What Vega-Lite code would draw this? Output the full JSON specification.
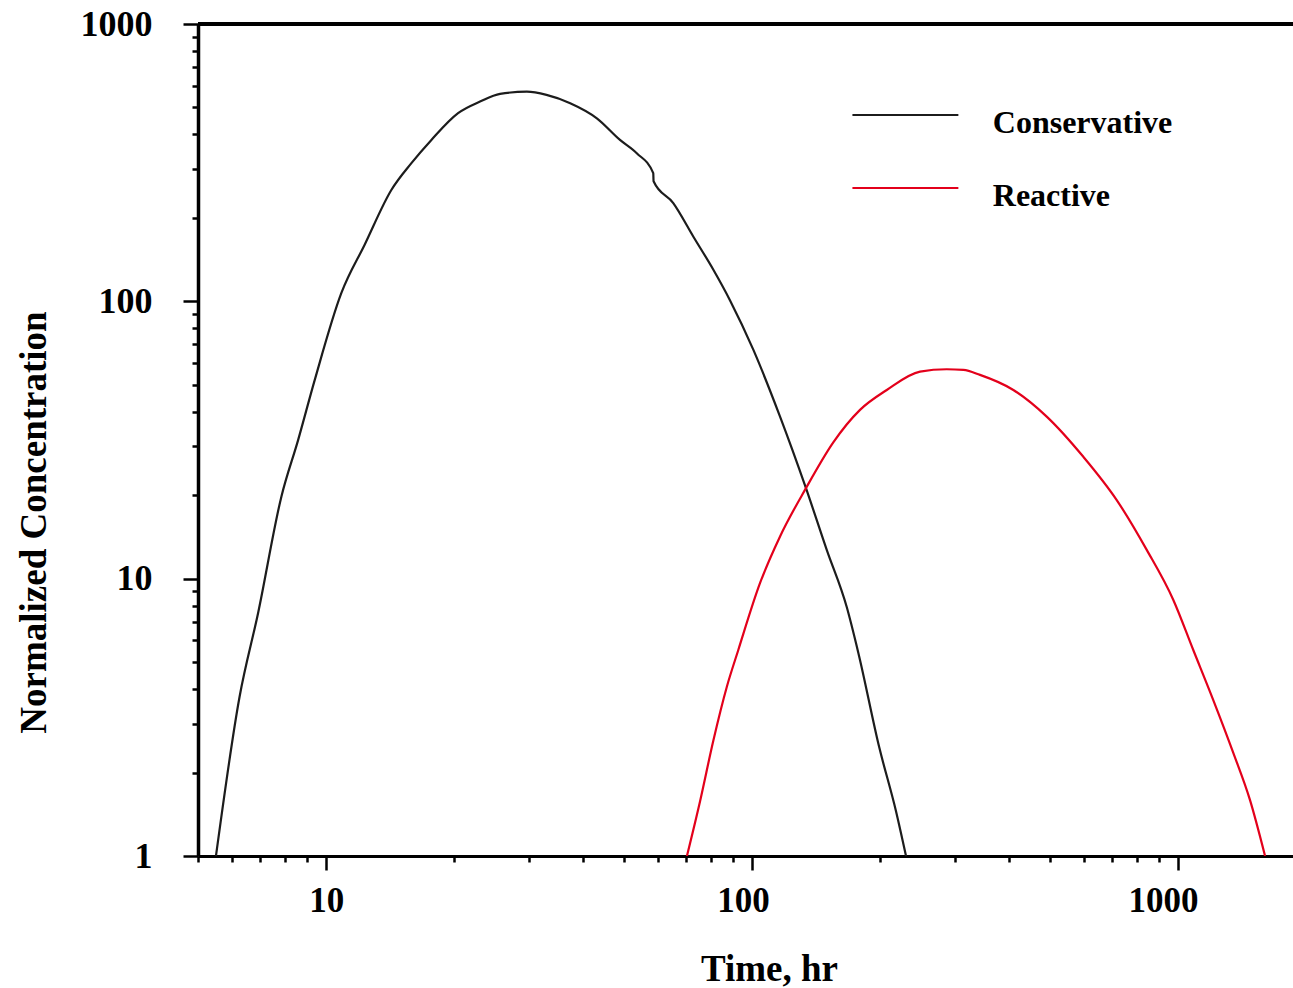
{
  "$schema": "https://vega.github.io/schema/vega-lite/v6.json",
  "width": 1095,
  "height": 832,
  "autosize": {"type": "none"},
  "padding": {"left": 198, "top": 24, "right": 0, "bottom": 132},
  "background": "white",
  "config": {
    "view": {"stroke": null},
    "font": "Liberation Serif"
  },
  "data": {
    "values": [
      {"series": "Conservative", "time": 5.51, "conc": 1.0},
      {"series": "Conservative", "time": 6.26, "conc": 3.75},
      {"series": "Conservative", "time": 6.92, "conc": 7.52},
      {"series": "Conservative", "time": 7.85, "conc": 19.8},
      {"series": "Conservative", "time": 8.59, "conc": 31.6},
      {"series": "Conservative", "time": 9.40, "conc": 52.1},
      {"series": "Conservative", "time": 10.85, "conc": 107},
      {"series": "Conservative", "time": 12.31, "conc": 160},
      {"series": "Conservative", "time": 14.22, "conc": 252},
      {"series": "Conservative", "time": 15.85, "conc": 315},
      {"series": "Conservative", "time": 17.66, "conc": 382},
      {"series": "Conservative", "time": 20.4, "conc": 477},
      {"series": "Conservative", "time": 22.97, "conc": 525},
      {"series": "Conservative", "time": 25.6, "conc": 560},
      {"series": "Conservative", "time": 29.6, "conc": 570},
      {"series": "Conservative", "time": 32.9, "conc": 555},
      {"series": "Conservative", "time": 37.4, "conc": 518},
      {"series": "Conservative", "time": 43.2, "conc": 457},
      {"series": "Conservative", "time": 48.95, "conc": 382},
      {"series": "Conservative", "time": 53.6, "conc": 342},
      {"series": "Conservative", "time": 58.6, "conc": 290},
      {"series": "Conservative", "time": 58.7, "conc": 271},
      {"series": "Conservative", "time": 65.3, "conc": 226},
      {"series": "Conservative", "time": 72.8, "conc": 171},
      {"series": "Conservative", "time": 81.1, "conc": 130},
      {"series": "Conservative", "time": 88.7, "conc": 101},
      {"series": "Conservative", "time": 100.7, "conc": 66.8},
      {"series": "Conservative", "time": 116.3, "conc": 38.4},
      {"series": "Conservative", "time": 133.8, "conc": 21.2},
      {"series": "Conservative", "time": 149.7, "conc": 12.7},
      {"series": "Conservative", "time": 166.8, "conc": 7.9},
      {"series": "Conservative", "time": 177.6, "conc": 5.4},
      {"series": "Conservative", "time": 198.9, "conc": 2.46},
      {"series": "Conservative", "time": 217.7, "conc": 1.45},
      {"series": "Conservative", "time": 229.8, "conc": 1.0},
      {"series": "Reactive", "time": 70.3, "conc": 1.0},
      {"series": "Reactive", "time": 75.5, "conc": 1.58},
      {"series": "Reactive", "time": 81.1, "conc": 2.61},
      {"series": "Reactive", "time": 87.2, "conc": 4.07},
      {"series": "Reactive", "time": 92.8, "conc": 5.53},
      {"series": "Reactive", "time": 104.4, "conc": 9.65},
      {"series": "Reactive", "time": 116.3, "conc": 14.2},
      {"series": "Reactive", "time": 133.8, "conc": 21.2},
      {"series": "Reactive", "time": 155.1, "conc": 31.0},
      {"series": "Reactive", "time": 179.2, "conc": 40.6},
      {"series": "Reactive", "time": 207.1, "conc": 47.9},
      {"series": "Reactive", "time": 247.9, "conc": 55.8},
      {"series": "Reactive", "time": 286.3, "conc": 56.9},
      {"series": "Reactive", "time": 313.3, "conc": 56.6},
      {"series": "Reactive", "time": 342.8, "conc": 54.3},
      {"series": "Reactive", "time": 410.6, "conc": 47.9},
      {"series": "Reactive", "time": 491.7, "conc": 38.4},
      {"series": "Reactive", "time": 599.4, "conc": 27.5},
      {"series": "Reactive", "time": 718, "conc": 19.2},
      {"series": "Reactive", "time": 844.4, "conc": 12.7},
      {"series": "Reactive", "time": 975, "conc": 8.38},
      {"series": "Reactive", "time": 1086, "conc": 5.53},
      {"series": "Reactive", "time": 1210, "conc": 3.65},
      {"series": "Reactive", "time": 1349, "conc": 2.35},
      {"series": "Reactive", "time": 1476, "conc": 1.59},
      {"series": "Reactive", "time": 1601, "conc": 1.0}
    ]
  },
  "layer": [
    {
      "mark": {"type": "rule", "color": "black", "strokeWidth": 3},
      "encoding": {"y": {"datum": 1000, "type": "quantitative"}}
    },
    {
      "mark": {"type": "line", "strokeWidth": 2.2, "clip": true, "interpolate": "monotone"},
      "encoding": {
        "x": {
          "field": "time",
          "type": "quantitative",
          "scale": {"type": "log", "domain": [5, 1862], "nice": false},
          "axis": {
            "orient": "bottom",
            "values": [5, 6, 7, 8, 9, 10, 20, 30, 40, 50, 60, 70, 80, 90, 100, 200, 300, 400, 500, 600, 700, 800, 900, 1000],
            "tickSize": {"condition": {"test": "datum.value == 10 || datum.value == 100 || datum.value == 1000", "value": 14}, "value": 6},
            "labelExpr": "datum.value == 10 || datum.value == 100 || datum.value == 1000 ? toString(datum.value) : ''",
            "labelOffset": {"condition": [{"test": "datum.value == 100", "value": -9}, {"test": "datum.value == 1000", "value": -15}], "value": 0},
            "labelFont": "Liberation Serif",
            "labelFontWeight": "bold",
            "labelFontSize": 35,
            "labelColor": "black",
            "labelPadding": 13,
            "labelOverlap": false,
            "labelFlush": false,
            "domainColor": "black",
            "domainWidth": 3,
            "tickColor": "black",
            "tickWidth": 2.5,
            "grid": false,
            "title": "Time, hr",
            "titleFont": "Liberation Serif",
            "titleFontWeight": "bold",
            "titleFontSize": 37,
            "titleColor": "black",
            "titleX": 571,
            "titleY": 124,
            "titleBaseline": "alphabetic",
            "titleAlign": "center",
            "titleAngle": 0
          }
        },
        "y": {
          "field": "conc",
          "type": "quantitative",
          "scale": {"type": "log", "domain": [1, 1000], "nice": false},
          "axis": {
            "orient": "left",
            "values": [1, 2, 3, 4, 5, 6, 7, 8, 9, 10, 20, 30, 40, 50, 60, 70, 80, 90, 100, 200, 300, 400, 500, 600, 700, 800, 900, 1000],
            "tickSize": {"condition": {"test": "datum.value == 1 || datum.value == 10 || datum.value == 100 || datum.value == 1000", "value": 15}, "value": 6},
            "labelExpr": "datum.value == 1 || datum.value == 10 || datum.value == 100 || datum.value == 1000 ? toString(datum.value) : ''",
            "labelFont": "Liberation Serif",
            "labelFontWeight": "bold",
            "labelFontSize": 36,
            "labelColor": "black",
            "labelPadding": 31,
            "labelOverlap": false,
            "labelFlush": false,
            "domainColor": "black",
            "domainWidth": 3.5,
            "tickColor": "black",
            "tickWidth": 2.5,
            "grid": false,
            "title": "Normalized Concentration",
            "titleFont": "Liberation Serif",
            "titleFontWeight": "bold",
            "titleFontSize": 37,
            "titleColor": "black",
            "titleX": -153,
            "titleY": 498,
            "titleAngle": 270,
            "titleBaseline": "alphabetic",
            "titleAlign": "center"
          }
        },
        "color": {
          "field": "series",
          "type": "nominal",
          "scale": {"domain": ["Conservative", "Reactive"], "range": ["#1c1c1c", "#e3001b"]},
          "legend": {
            "orient": "none",
            "legendX": 691.4,
            "legendY": 83,
            "title": null,
            "padding": 0,
            "symbolType": "M-5,-0.75L5,-0.75",
            "symbolSize": 449,
            "symbolStrokeWidth": 2,
            "labelOffset": 71.4,
            "labelFont": "Liberation Serif",
            "labelFontWeight": "bold",
            "labelFontSize": 32,
            "labelColor": "black",
            "labelBaseline": "middle",
            "labelLimit": 0,
            "rowPadding": 41
          }
        }
      }
    }
  ]
}
